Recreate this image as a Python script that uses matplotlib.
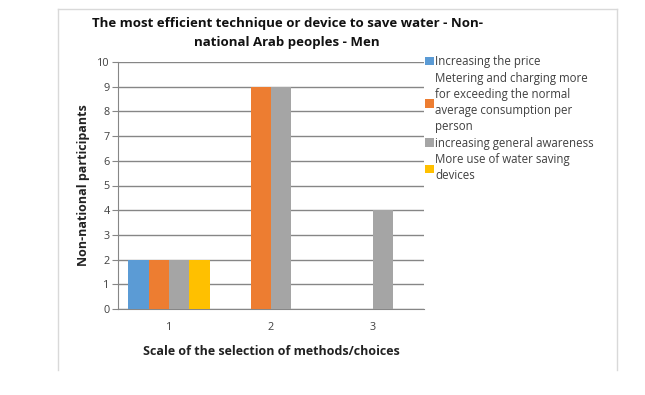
import matplotlib
matplotlib.use("Agg")
import matplotlib.pyplot as plt
import numpy as np
from matplotlib.lines import Line2D
from matplotlib.patches import Patch

categories = ["1", "2", "3"]
series_names = [
    "Increasing the price",
    "Metering and charging more\nfor exceeding the normal\naverage consumption per\nperson",
    "increasing general awareness",
    "More use of water saving\ndevices",
]
price = [2, 0, 0]
metering = [2, 9, 0]
awareness = [2, 9, 4]
devices = [2, 0, 0]
yticks = list(range(0, 11))

colors = ["#5B9BD5", "#ED7D31", "#A5A5A5", "#FFC000"]
plt.rcParams['font.family'] = ['Open Sans', 'DejaVu Sans']

W, H = 645, 395
fig = plt.figure(figsize=(W / 100, H / 100), dpi=100)
ax = fig.add_axes([118 / W, 1 - 309 / H, (424 - 118) / W, (309 - 62) / H])

x = np.arange(len(categories))
bw = 0.2
data = [price, metering, awareness, devices]
for i, (vals, c) in enumerate(zip(data, colors)):
    ax.bar(x + (i - 1.5) * bw, vals, bw, color=c, zorder=3, label=series_names[i])

ax.set_xlim(-0.5, 2.5)
ax.set_ylim(0, 10)
ax.set_yticks(yticks)
ax.set_xticks(x)
ax.set_xticklabels(categories)
ax.yaxis.grid(True, color="#868686", linewidth=1.0, zorder=0)
for s in ["top", "right"]:
    ax.spines[s].set_visible(False)
ax.spines["left"].set_color("#868686")
ax.spines["bottom"].set_color("#868686")
ax.tick_params(axis="y", length=4, color="#868686", labelsize=7.8, labelcolor="#404040", pad=2)
ax.tick_params(axis="x", length=0, labelsize=7.8, labelcolor="#404040", pad=9)

ax.set_ylabel("Non-national participants", fontsize=9, fontweight="bold", color="#222222", labelpad=5.5)
ax.set_xlabel("Scale of the selection of methods/choices", fontsize=9, fontweight="bold", color="#222222", labelpad=9)

fig.text(287 / W, 1 - 33 / H, "The most efficient technique or device to save water - Non-\nnational Arab peoples - Men",
         ha="center", va="center", fontsize=9.5, fontweight="bold", color="#111111", linespacing=1.55)

handles = [Patch(facecolor=c, edgecolor="none") for c in colors]
leg = fig.legend(handles, series_names, loc="upper left", bbox_to_anchor=(425 / W, 1 - 55 / H),
                 frameon=False, fontsize=8.3, handlelength=0.75, handleheight=0.75, handletextpad=0.15,
                 labelspacing=0.33, borderaxespad=0, borderpad=0)
for t in leg.get_texts():
    t.set_color("#404040")
    t.set_linespacing(1.3)

# outer chart frame
fc = "#D9D9D9"
fig.add_artist(Line2D([58 / W, 58 / W], [1 - 370 / H, 1 - 9 / H], color=fc, lw=1, transform=fig.transFigure))
fig.add_artist(Line2D([58 / W, 617 / W], [1 - 9 / H, 1 - 9 / H], color=fc, lw=1, transform=fig.transFigure))
fig.add_artist(Line2D([617 / W, 617 / W], [1 - 370 / H, 1 - 9 / H], color=fc, lw=1, transform=fig.transFigure))

fig.savefig("out.png", dpi=100)
